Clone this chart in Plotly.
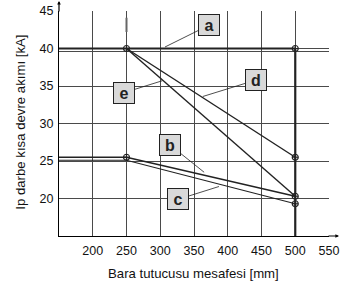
import plotly.graph_objects as go

# Data
x_a = [150, 250, 500]
y_a = [40, 40, 40]
x_b = [150, 250, 500]
y_b = [25.5, 25.5, 20.3]
x_c = [150, 250, 500]
y_c = [25.1, 25.1, 19.3]
x_d = [250, 500]
y_d = [40, 25.5]
x_e = [250, 500]
y_e = [40, 20.3]
guide_x = [150, 550]
guide_y = [39.6, 39.6]
vert_x = [500, 500]
vert_y = [15, 40]
stub_x = [250, 250]
stub_y = [42.2, 44.1]
marker_x = [250, 500, 250, 500, 500, 500]
marker_y = [40, 40, 25.5, 20.3, 19.3, 25.5]

x_ticks = [200, 250, 300, 350, 400, 450, 500, 550]
y_ticks = [20, 25, 30, 35, 40, 45]

labels = ["a", "b", "c", "d", "e"]
label_pos = [(372, 43.1), (315, 27.1), (327, 19.9), (442, 35.8), (246, 34.1)]
label_tip = [(307, 40.2), (365, 23.5), (387, 21.6), (363, 33.6), (303, 35.7)]

DARK = "#222222"
GRID = "#4a4a4a"
FONT = "Liberation Sans, Arial, sans-serif"

fig = go.Figure()

def line(x, y, w, color=DARK):
    fig.add_trace(go.Scatter(x=x, y=y, mode="lines", line=dict(color=color, width=w),
                             showlegend=False, hoverinfo="skip"))

line(guide_x, guide_y, 1, GRID)
line(stub_x, stub_y, 2, "#666666")
line(vert_x, vert_y, 2.2)
line(x_a, y_a, 2.2)
line(x_b, y_b, 1.6)
line(x_c, y_c, 1.2)
line(x_d, y_d, 1.4)
line(x_e, y_e, 1.4)

fig.add_trace(go.Scatter(x=marker_x, y=marker_y, mode="markers",
                         marker=dict(symbol="circle-cross-open", size=6, color=DARK, line=dict(width=1.2)),
                         showlegend=False, hoverinfo="skip"))

for lab, (lx, ly), (tx, ty) in zip(labels, label_pos, label_tip):
    fig.add_annotation(x=tx, y=ty, ax=lx, ay=ly, axref="x", ayref="y", xref="x", yref="y",
                       text="", showarrow=True, arrowhead=0, arrowwidth=0.8, arrowcolor=DARK)
    fig.add_annotation(x=lx, y=ly, xref="x", yref="y", text="<b>%s</b>" % lab, showarrow=False,
                       font=dict(family=FONT, size=16, color=DARK),
                       bgcolor="#d9d9d9", bordercolor=DARK, borderwidth=1,
                       width=20, height=20, borderpad=0)

# axis arrows
fig.add_annotation(x=150, y=1.045, xref="x", yref="paper", ax=0, ay=12, text="",
                   showarrow=True, arrowhead=2, arrowsize=0.6, arrowwidth=1.2, arrowcolor="#000")
fig.add_annotation(x=1.037, y=15, xref="paper", yref="y", ax=-12, ay=0, text="",
                   showarrow=True, arrowhead=2, arrowsize=0.6, arrowwidth=1.2, arrowcolor="#000")

fig.add_annotation(x=-0.144, y=0.504, xref="paper", yref="paper", text="Ip darbe kısa devre akımı [kA]",
                   textangle=-90, showarrow=False, xanchor="center", yanchor="middle",
                   font=dict(family=FONT, size=13.2, color="#111"))
fig.add_annotation(x=0.498, y=-0.166, xref="paper", yref="paper", text="Bara tutucusu mesafesi [mm]",
                   showarrow=False, xanchor="center", yanchor="middle",
                   font=dict(family=FONT, size=13.2, color="#111"))

fig.update_xaxes(range=[150, 550], tickvals=x_ticks, showgrid=True, gridcolor=GRID, gridwidth=1,
                 showline=True, linecolor="#000", linewidth=1.2, zeroline=False,
                 ticks="outside", ticklen=3, tickcolor="rgba(0,0,0,0)", automargin=False,
                 tickfont=dict(family=FONT, size=12.5, color="#111"), fixedrange=True)
fig.update_yaxes(range=[15, 45], tickvals=y_ticks, showgrid=True, gridcolor=GRID, gridwidth=1,
                 showline=True, linecolor="#000", linewidth=1.2, zeroline=False,
                 ticks="outside", ticklen=2, tickcolor="rgba(0,0,0,0)", automargin=False,
                 tickfont=dict(family=FONT, size=12.5, color="#111"), fixedrange=True)

fig.update_layout(width=340, height=289, margin=dict(l=59, r=11, t=11, b=53),
                  plot_bgcolor="white", paper_bgcolor="white", showlegend=False)

fig.write_html("out.html", config={"displayModeBar": False},
               post_script="document.body.style.margin='0';document.body.style.overflow='hidden';")
